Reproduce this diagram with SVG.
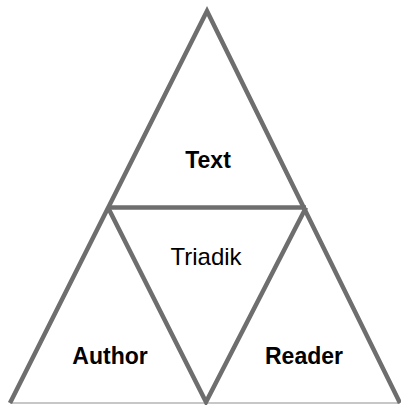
<svg xmlns="http://www.w3.org/2000/svg" width="401" height="405" viewBox="0 0 401 405">
  <style>
    .edge { stroke: #6e6e6e; stroke-width: 4.5; fill: none; stroke-linecap: butt; stroke-linejoin: miter; }
    .base { stroke: #b4b4b4; stroke-width: 1.5; fill: none; }
    .label { font-family: "Liberation Sans", Arial, sans-serif; font-size: 23px; fill: #000; text-anchor: middle; }
    .bold { font-weight: bold; }
  </style>
  <rect width="401" height="405" fill="#fff"/>

  <!-- outline of the triangle subdivision -->
  <g id="connectors">
    <line class="base" x1="10" y1="403" x2="400" y2="403"/>
    <polyline class="edge" points="10,403 207,11 400,403"/>
    <line class="edge" x1="108" y1="207.5" x2="306" y2="207.5"/>
    <polyline class="edge" points="108,207.5 206,402 306,207.5"/>
  </g>

  <g id="text-node">
    <text class="label bold" x="208" y="168" font-size="24">Text</text>
  </g>
  <g id="triadik-node">
    <text class="label" x="206" y="265" style="font-size:24px">Triadik</text>
  </g>
  <g id="author-node">
    <text class="label bold" x="110" y="364">Author</text>
  </g>
  <g id="reader-node">
    <text class="label bold" x="304" y="364">Reader</text>
  </g>
</svg>
